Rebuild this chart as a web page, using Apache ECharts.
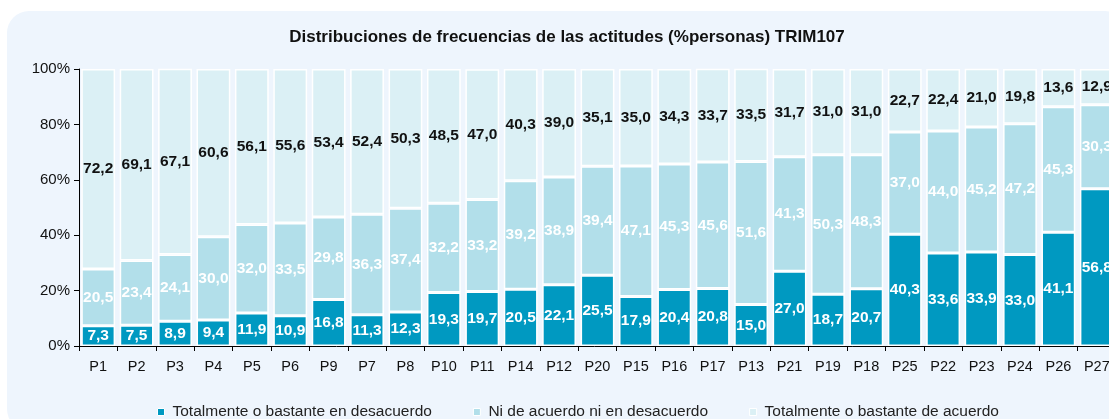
<!DOCTYPE html>
<html><head><meta charset="utf-8">
<script src="https://cdn.jsdelivr.net/npm/echarts@6/dist/echarts.min.js"></script>
<style>html,body{margin:0;padding:0;background:#fff}
#bg{position:absolute;left:7px;top:11px;width:1120px;height:420px;background:#eef5fd;border-radius:22px}
#c{position:absolute;left:0;top:0;width:1109px;height:419px}</style>
</head><body><div id="bg"></div><div id="c"></div>
<script>
const categories = ['P1','P2','P3','P4','P5','P6','P9','P7','P8','P10','P11','P14','P12','P20','P15','P16','P17','P13','P21','P19','P18','P25','P22','P23','P24','P26','P27'];
const desacuerdo = [7.3,7.5,8.9,9.4,11.9,10.9,16.8,11.3,12.3,19.3,19.7,20.5,22.1,25.5,17.9,20.4,20.8,15.0,27.0,18.7,20.7,40.3,33.6,33.9,33.0,41.1,56.8];
const neutral = [20.5,23.4,24.1,30.0,32.0,33.5,29.8,36.3,37.4,32.2,33.2,39.2,38.9,39.4,47.1,45.3,45.6,51.6,41.3,50.3,48.3,37.0,44.0,45.2,47.2,45.3,30.3];
const acuerdo = [72.2,69.1,67.1,60.6,56.1,55.6,53.4,52.4,50.3,48.5,47.0,40.3,39.0,35.1,35.0,34.3,33.7,33.5,31.7,31.0,31.0,22.7,22.4,21.0,19.8,13.6,12.9];
const yTicks = [0,20,40,60,80,100];
const names = ['Totalmente o bastante en desacuerdo','Ni de acuerdo ni en desacuerdo','Totalmente o bastante de acuerdo'];
const colors = ['#0099c1','#b2dfea','#dbf0f5'];
const fmt = p => p.value.toFixed(1).replace('.', ',');
const font = 'Liberation Sans, Arial, sans-serif';
function mk(i, data, labelColor){
  return {name:names[i], type:'bar', stack:'s', data:data, barWidth:'88%',
    itemStyle:{color:colors[i], borderColor:'#ffffff', borderWidth:1.5},
    label:{show:true, position:'inside', formatter:fmt, color:labelColor, fontWeight:'bold', fontSize:15.5, fontFamily:font},
    emphasis:{disabled:true}};
}
const chart = echarts.init(document.getElementById('c'));
chart.setOption({
  animation:false,
  title:{text:'Distribuciones de frecuencias de las actitudes (%personas) TRIM107', left:562, textAlign:'center', top:24,
    textStyle:{fontFamily:font, fontSize:17, fontWeight:'bold', color:'#111'}},
  legend:{top:399, left:152, itemWidth:7, itemHeight:7, itemGap:41, icon:'rect',
    textStyle:{fontFamily:font, fontSize:15.5, color:'#222', padding:[0,0,0,3]},
    itemStyle:{borderColor:'#fff', borderWidth:1}},
  grid:{left:79, width:1037, top:69, bottom:73, outerBoundsMode:'none', containLabel:false},
  xAxis:{type:'category', data:categories,
    axisLine:{lineStyle:{color:'#000', width:1}},
    axisTick:{show:true, length:5, lineStyle:{color:'#000'}},
    axisLabel:{color:'#111', fontFamily:font, fontSize:14.5, margin:13}},
  yAxis:{type:'value', min:0, max:100, interval:20,
    axisLine:{show:true, lineStyle:{color:'#000'}},
    axisTick:{show:true, length:5, lineStyle:{color:'#000'}},
    splitLine:{show:false},
    axisLabel:{color:'#111', fontFamily:font, fontSize:15, margin:9, formatter:v => yTicks.includes(v) ? v+'%' : ''}},
  series:[mk(0, desacuerdo, '#ffffff'), mk(1, neutral, '#ffffff'), mk(2, acuerdo, '#111111')]
});
</script></body></html>
